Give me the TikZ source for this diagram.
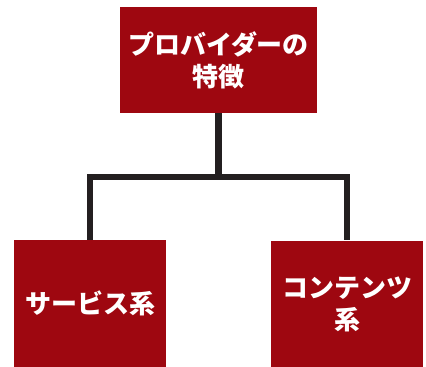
\documentclass[tikz,border=0pt]{standalone}
\usepackage{fontspec}
\newfontfamily\jpfont{Noto Sans CJK JP}
\definecolor{boxred}{HTML}{9E0710}
\definecolor{linegray}{HTML}{231F20}
\begin{document}
\begin{tikzpicture}[x=1pt, y=1pt,
    box/.style = {fill=boxred, text=white, inner sep=0pt, align=center,
                  font=\jpfont\bfseries\fontsize{26}{32}\selectfont},
    link/.style = {draw=linegray, line width=6.5pt, line join=miter}]
    \useasboundingbox (0,0) rectangle (426,-367);
    % boxes
    \node[box, minimum width=197, minimum height=106] (provider) at (218.5,-60) {プロバイダーの\\特徴};
    \node[box, minimum width=152, minimum height=127] (service)  at (90,-303.5) {サービス系};
    \node[box, minimum width=152, minimum height=127] (content)  at (347,-304) {コンテンツ\\系};
    % connectors
    \coordinate (split) at (218.5,-177);
    \draw[link] (provider.south) -- (split);
    \draw[link] (service.north) |- (split) -| (content.north);
\end{tikzpicture}
\end{document}
